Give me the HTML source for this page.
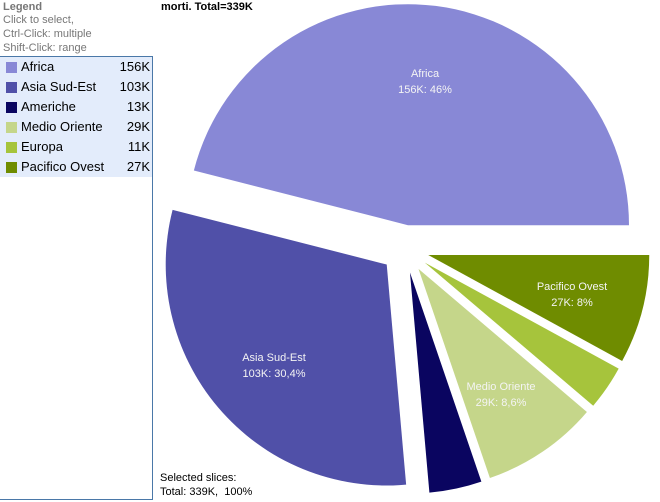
<!DOCTYPE html>
<html><head><meta charset="utf-8"><style>
body{margin:0;width:660px;height:502px;background:#fff;font-family:"Liberation Sans",sans-serif;position:relative;overflow:hidden}
.t{position:absolute;font-size:11px;color:#777;left:3px;line-height:14px}
#leg{position:absolute;left:0;top:56px;width:153px;height:444px;border:1px solid #4a78a8;border-left:none;box-sizing:border-box}
.row{position:relative;height:20px;background:#e3ecfb;font-size:13px;color:#000;line-height:20px}
.sw{position:absolute;left:6px;top:5px;width:11px;height:11px}
.nm{position:absolute;left:21px}.vl{position:absolute;right:2px}
</style></head><body>
<div class="t" style="top:0;font-weight:bold">Legend</div>
<div class="t" style="top:13px">Click to select,</div>
<div class="t" style="top:27px">Ctrl-Click: multiple</div>
<div class="t" style="top:41px">Shift-Click: range</div>
<div id="leg">
<div class="row"><span class="sw" style="background:#8888d6"></span><span class="nm">Africa</span><span class="vl">156K</span></div>
<div class="row"><span class="sw" style="background:#5050a8"></span><span class="nm">Asia Sud-Est</span><span class="vl">103K</span></div>
<div class="row"><span class="sw" style="background:#0a0560"></span><span class="nm">Americhe</span><span class="vl">13K</span></div>
<div class="row"><span class="sw" style="background:#c5d68a"></span><span class="nm">Medio Oriente</span><span class="vl">29K</span></div>
<div class="row"><span class="sw" style="background:#a6c43c"></span><span class="nm">Europa</span><span class="vl">11K</span></div>
<div class="row"><span class="sw" style="background:#6f8c00"></span><span class="nm">Pacifico Ovest</span><span class="vl">27K</span></div>
</div>
<div style="position:absolute;left:161px;top:1px;font-size:11px;font-weight:bold">morti. Total=339K</div>
<div style="position:absolute;left:160px;top:471px;font-size:11px;line-height:14px">Selected slices:<br>Total: 339K,&nbsp; 100%</div>
<svg id="s" width="660" height="502" style="position:absolute;left:0;top:0"></svg>
<script>
var d=[[156,'#8888d6'],[103,'#5050a8'],[13,'#0a0560'],[29,'#c5d68a'],[11,'#a6c43c'],[27,'#6f8c00']];
var cx=405,cy=249,R=221,ex=24,a=0,h='';
d.forEach(function(e){var s=e[0]/339*2*Math.PI,b=a+s/2,ox=cx+ex*Math.cos(b),oy=cy-ex*Math.sin(b);
var x1=ox+R*Math.cos(a),y1=oy-R*Math.sin(a),x2=ox+R*Math.cos(a+s),y2=oy-R*Math.sin(a+s);
h+='<path fill="'+e[1]+'" d="M'+ox+' '+oy+'L'+x1+' '+y1+'A'+R+' '+R+' 0 '+(s>Math.PI?1:0)+' 0 '+x2+' '+y2+'Z"/>';a+=s;});
var L=[[425,77,'Africa','156K:  46%'],[274,361,'Asia Sud-Est','103K:  30,4%'],[572,290,'Pacifico Ovest','27K:  8%'],[501,390,'Medio Oriente','29K:  8,6%']];
L.forEach(function(l){h+='<text x="'+l[0]+'" y="'+l[1]+'" fill="#f4f4f4" font-size="11" text-anchor="middle" font-family="Liberation Sans">'+l[2]+'</text><text x="'+l[0]+'" y="'+(l[1]+16)+'" fill="#f4f4f4" font-size="11" text-anchor="middle" font-family="Liberation Sans">'+l[3]+'</text>';});
document.getElementById('s').innerHTML=h;
</script>
</body></html>
